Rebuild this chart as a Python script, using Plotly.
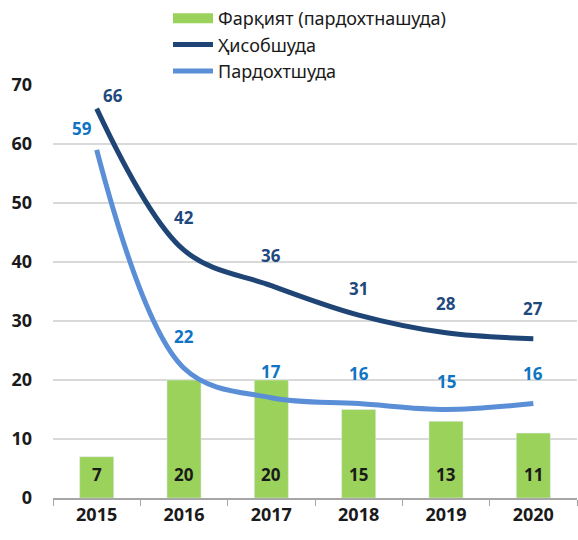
import plotly.graph_objects as go

years = ["2015", "2016", "2017", "2018", "2019", "2020"]
farqiyat = [7, 20, 20, 15, 13, 11]
hisobshuda = [66, 42, 36, 31, 28, 27]
pardokhtshuda = [59, 22, 17, 16, 15, 16]

names = ["Фарқият (пардохтнашуда)", "Ҳисобшуда", "Пардохтшуда"]

FONT = "Noto Sans"
c_bar = "#9BD25C"
c_his = "#1F4476"
c_par = "#5A8ED6"
c_his_lbl = "#1F497D"
c_par_lbl = "#0F74C4"
c_txt = "#1a1a1a"

fig = go.Figure()
fig.add_trace(go.Bar(
    x=years, y=farqiyat, name=names[0], marker_color=c_bar, width=0.39,
    showlegend=False, legendgroup="bar",
))
# legend-only entry giving a wide green swatch like the reference
fig.add_trace(go.Scatter(
    x=[None], y=[None], name=names[0], mode="lines", legendgroup="bar",
    line=dict(color=c_bar, width=12), hoverinfo="skip",
))
fig.add_trace(go.Scatter(
    x=years, y=hisobshuda, name=names[1], mode="lines",
    line=dict(color=c_his, width=5, shape="spline", smoothing=1.0),
))
fig.add_trace(go.Scatter(
    x=years, y=pardokhtshuda, name=names[2], mode="lines",
    line=dict(color=c_par, width=5, shape="spline", smoothing=1.0),
))

# label offsets (pixels)
his_dx = [16, 0, 0, 0, 0, 0]
his_dy = [13, 33, 30, 27, 29, 30]
par_dx = [-15, 0, 0, 0, 0, 0]
par_dy = [21, 32, 26, 30, 28, 30]
for i, y in enumerate(years):
    fig.add_annotation(x=i, y=hisobshuda[i], text=f"<b>{hisobshuda[i]}</b>", showarrow=False,
                       xshift=his_dx[i], yshift=his_dy[i],
                       font=dict(family=FONT, size=17, color=c_his_lbl))
    fig.add_annotation(x=i, y=pardokhtshuda[i], text=f"<b>{pardokhtshuda[i]}</b>", showarrow=False,
                       xshift=par_dx[i], yshift=par_dy[i],
                       font=dict(family=FONT, size=17, color=c_par_lbl))
    fig.add_annotation(x=i, y=0, text=f"<b>{farqiyat[i]}</b>", showarrow=False,
                       yanchor="middle", yshift=24,
                       font=dict(family=FONT, size=17, color=c_txt))

fig.update_layout(
    width=578, height=540,
    margin=dict(l=53, r=1, t=85, b=42, autoexpand=False),
    paper_bgcolor="white", plot_bgcolor="white",
    font=dict(family=FONT, size=16, color=c_txt),
    showlegend=True,
    legend=dict(x=168/578, y=1.0, xref="container", yref="container",
                xanchor="left", yanchor="top",
                orientation="v", bgcolor="rgba(0,0,0,0)", tracegroupgap=0,
                font=dict(family=FONT, size=18, color=c_txt), itemwidth=40),
)
fig.update_xaxes(
    type="category", showline=True, linecolor="#A6A6A6", linewidth=1.5,
    ticks="outside", tickson="boundaries", ticklen=6, tickcolor="#A6A6A6",
    tickfont=dict(family=FONT, size=18, color=c_txt, weight="bold"),
    showgrid=False, range=[-0.5, 5.5],
)
fig.update_yaxes(
    range=[0, 70], dtick=10, showgrid=True, gridcolor="#D9D9D9", gridwidth=1.5,
    showline=False, zeroline=False, ticks="", ticklabelstandoff=20,
    tickfont=dict(family=FONT, size=18, color=c_txt, weight="bold"),
)

fig.write_html("out.html", config={"displayModeBar": False},
               post_script="document.body.style.margin='0';")
